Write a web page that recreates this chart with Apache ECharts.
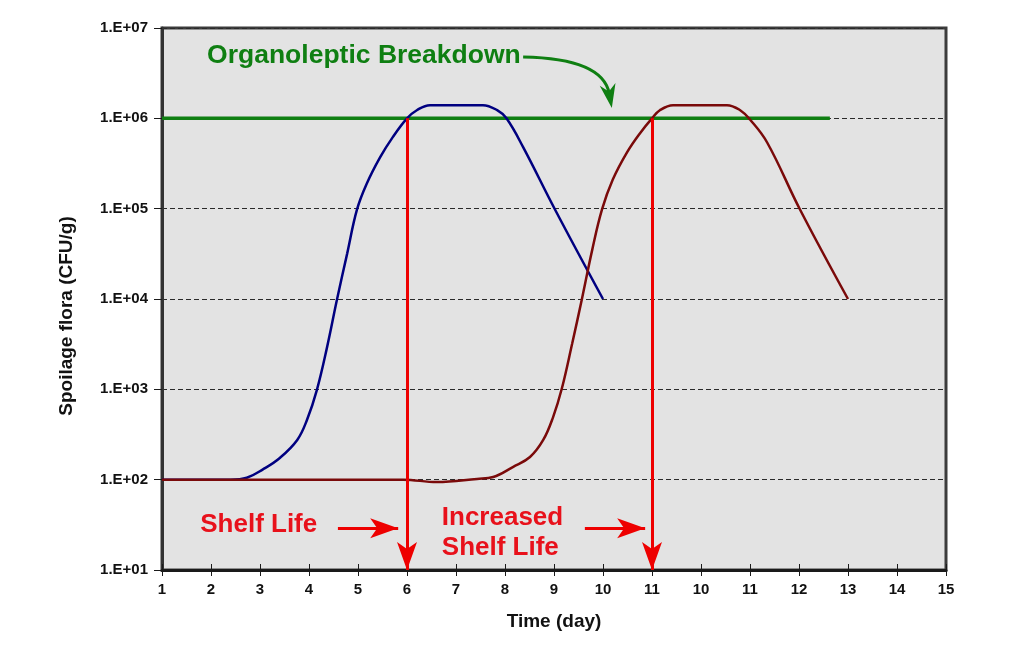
<!DOCTYPE html>
<html><head><meta charset="utf-8">
<script src="https://cdn.jsdelivr.net/npm/echarts@6/dist/echarts.min.js"></script>
<style>html,body{margin:0;padding:0;background:#fff}#c{width:1024px;height:648px}</style>
</head><body><div id="c"></div>
<script>
// Tick labels (as printed on the original chart)
const xTickLabels = ['1','2','3','4','5','6','7','8','9','10','11','10','11','12','13','14','15'];
const yTickLabels = ['1.E+01','1.E+02','1.E+03','1.E+04','1.E+05','1.E+06','1.E+07'];

// Positions are tick positions along the time axis (0 = first tick "1")
const firstDays   = [0, 1, 1.4, 1.73, 2.06, 2.41, 2.76, 2.96, 3.16, 3.37, 3.57, 3.78, 3.98, 4.18, 4.45, 4.71, 5.0, 5.2, 5.47, 6.55, 6.84, 7.03, 7.37, 8.02, 9.0];
const firstCounts = [100, 100, 100, 105, 130, 175, 275, 460, 980, 2950, 9800, 32000, 98000, 190000, 370000, 620000, 1000000, 1230000, 1400000, 1400000, 1230000, 1000000, 480000, 98000, 10000];

const secondDays   = [0, 4.92, 5.61, 6.43, 6.76, 7.16, 7.51, 7.78, 7.98, 8.16, 8.37, 8.57, 8.78, 8.98, 9.2, 9.49, 9.76, 10.0, 10.16, 10.43, 11.53, 11.8, 12.0, 12.35, 13.02, 14.0];
const secondCounts = [100, 100, 94, 102, 107, 138, 178, 275, 490, 1020, 3200, 10000, 35000, 98000, 210000, 420000, 690000, 1000000, 1230000, 1400000, 1400000, 1230000, 970000, 540000, 98000, 10000];

const thresholdDays   = [0, 13.63];
const thresholdCounts = [1000000, 1000000];

const shelfLifeDays = [5, 10];
const shelfLifeTop = 1000000;
const axisFloor = 10;

const pointerFrom  = [3.59, 8.63];
const pointerTo    = [4.82, 9.86];
const pointerLevel = [29, 29];

const noteTexts  = ['Organoleptic Breakdown', 'Shelf Life', 'Increased\nShelf Life'];
const noteDays   = [0.92, 0.78, 5.71];
const noteCounts = [4900000, 31.5, 25.7];
const noteColors = ['#0f7f12', '#e8111b', '#e8111b'];
const noteSizes  = [26.5, 26, 26];

// curved pointer from the "Organoleptic Breakdown" note
const curveFrom = [7.37, 4770000];
const curveBend = [9.0, 4600000];
const curveTo   = [9.18, 1300000];

const zip = (a, b) => a.map((v, i) => [v, b[i]]);

const chart = echarts.init(document.getElementById('c'), null, {renderer: 'canvas'});

const redArrows = shelfLifeDays.map(d => [{coord: [d, shelfLifeTop]}, {coord: [d, axisFloor]}]);
const sideArrows = pointerFrom.map((f, i) => [{coord: [f, pointerLevel[i]]}, {coord: [pointerTo[i], pointerLevel[i]]}]);

chart.setOption({
  animation: false,
  backgroundColor: '#ffffff',
  grid: {left: 162, right: 78, top: 28, bottom: 78, show: true, backgroundColor: '#e3e3e3', borderColor: '#3c3c3c', borderWidth: 3},
  xAxis: [{
    type: 'value', min: 0, max: 16, interval: 1,
    name: 'Time (day)', nameLocation: 'middle', nameGap: 42,
    nameTextStyle: {fontFamily: 'Liberation Sans, Arial, sans-serif', fontWeight: 'bold', fontSize: 19, color: '#111'},
    axisLine: {show: true, onZero: false, lineStyle: {color: '#1a1a1a', width: 3}},
    axisTick: {show: true, length: 6, lineStyle: {color: '#1a1a1a', width: 1}},
    axisLabel: {margin: 12, fontFamily: 'Liberation Sans, Arial, sans-serif', fontWeight: 'bold', fontSize: 15, color: '#111',
      formatter: v => xTickLabels[Math.round(v)] || ''},
    splitLine: {show: false}
  }, {
    type: 'value', min: 0, max: 16, interval: 1, position: 'bottom', offset: 0,
    axisLine: {show: false}, axisTick: {show: true, inside: true, length: 6, lineStyle: {color: '#1a1a1a', width: 1}},
    axisLabel: {show: false}, splitLine: {show: false}
  }],
  yAxis: {
    type: 'log', logBase: 10, min: 10, max: 10000000, splitNumber: 6,
    name: 'Spoilage flora (CFU/g)', nameLocation: 'middle', nameGap: 86,
    nameTextStyle: {fontFamily: 'Liberation Sans, Arial, sans-serif', fontWeight: 'bold', fontSize: 19, color: '#111', padding: [0, 34, 0, 0]},
    axisLine: {show: true, lineStyle: {color: '#333', width: 3}},
    axisTick: {show: true, length: 8, lineStyle: {color: '#1a1a1a', width: 1}},
    axisLabel: {margin: 14, fontFamily: 'Liberation Sans, Arial, sans-serif', fontWeight: 'bold', fontSize: 15, color: '#111',
      formatter: v => yTickLabels[Math.round(Math.log10(v)) - 1] || ''},
    splitLine: {show: true, lineStyle: {color: '#2a2a2a', width: 1, type: [5, 3]}}
  },
  series: [
    {name: 'Organoleptic breakdown level', type: 'line', data: zip(thresholdDays, thresholdCounts), symbol: 'none',
      lineStyle: {color: '#0f7f12', width: 3.5}, z: 2},
    {name: 'Shelf life', type: 'line', data: zip(firstDays, firstCounts), symbol: 'none', smooth: 0.4,
      lineStyle: {color: '#000080', width: 2.5}, z: 3},
    {name: 'Increased shelf life', type: 'line', data: zip(secondDays, secondCounts), symbol: 'none', smooth: 0.4,
      lineStyle: {color: '#7a0a0a', width: 2.5}, z: 4},
    {name: 'arrows', type: 'line', data: [], z: 5,
      markLine: {silent: true, symbol: ['none', 'arrow'], symbolSize: [15, 28], label: {show: false},
        lineStyle: {color: '#ee0000', width: 3, type: 'solid'},
        emphasis: {disabled: true},
        data: redArrows.concat(sideArrows)}}
  ]
});

const px = c => chart.convertToPixel({gridIndex: 0}, c);
const texts = noteTexts.map((t, i) => {
  const p = px([noteDays[i], noteCounts[i]]);
  return {type: 'text', x: p[0], y: p[1], z: 100,
    style: {text: t, fill: noteColors[i], font: 'bold ' + noteSizes[i] + 'px "Liberation Sans", Arial, sans-serif',
      textAlign: 'left', textVerticalAlign: 'middle', verticalAlign: 'middle', lineHeight: 30}};
});

// curved green pointer
const p0 = px(curveFrom), cp = px(curveBend), tip = px(curveTo);
let dx = tip[0] - cp[0], dy = tip[1] - cp[1];
const len = Math.hypot(dx, dy); dx /= len; dy /= len;
const nx = -dy, ny = dx;
const headL = 24, headW = 8;
const lineEnd = [tip[0] - dx * headL * 0.6, tip[1] - dy * headL * 0.6];
texts.push({type: 'bezierCurve', z: 100,
  shape: {x1: p0[0], y1: p0[1], cpx1: cp[0], cpy1: cp[1], x2: lineEnd[0], y2: lineEnd[1]},
  style: {stroke: '#0f7f12', lineWidth: 3, fill: null}});
texts.push({type: 'polygon', z: 100,
  shape: {points: [
    tip,
    [tip[0] - dx * headL + nx * headW, tip[1] - dy * headL + ny * headW],
    [tip[0] - dx * headL * 0.7, tip[1] - dy * headL * 0.7],
    [tip[0] - dx * headL - nx * headW, tip[1] - dy * headL - ny * headW]
  ]},
  style: {fill: '#0f7f12'}});
chart.setOption({graphic: texts});
</script></body></html>
